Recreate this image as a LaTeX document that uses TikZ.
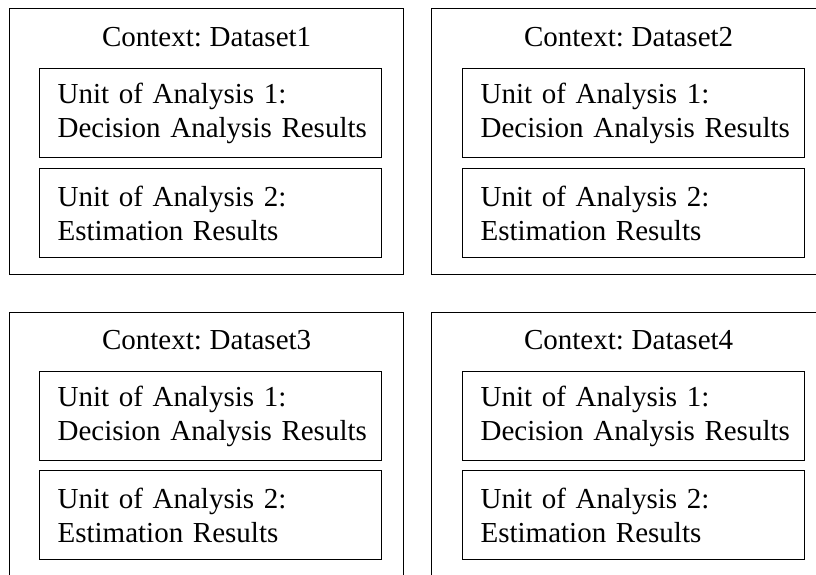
\documentclass[tikz,border=0pt]{standalone}
\usepackage{fontspec}
\setmainfont{Liberation Serif}[WordSpace=0.75]
\usetikzlibrary{positioning}
\newcommand{\unittext}[2]{\mbox{#1}\\\mbox{#2}}
\tikzset{
  ctxbox/.style={draw, line width=1.2pt, anchor=north west, inner sep=0pt, minimum width=394pt},
  ctxtitle/.style={anchor=base, inner sep=0pt, font=\fontsize{29pt}{34pt}\selectfont},
  unitbox/.style={draw, line width=1.2pt, anchor=north west, align=left, text width=306pt,
    inner xsep=18pt, inner ysep=0pt, minimum height=89pt, font=\fontsize{29pt}{34pt}\selectfont},
}
\begin{document}
\begin{tikzpicture}[x=1pt,y=-1pt]
\useasboundingbox (0,0) rectangle (816,574);
\clip (0,0) rectangle (816,574);
% top row
\node[ctxbox, minimum height=266pt] (ctx1) at (9,8) {};
\node[ctxtitle] (title1) at ([yshift=-38pt]ctx1.north) {Context: Dataset1};
\node[unitbox] (unitA1) at ([xshift=30pt,yshift=-60pt]ctx1.north west) {\unittext{Unit of Analysis 1:}{Decision Analysis Results}};
\node[unitbox, below=10pt of unitA1] (unitB1) {\unittext{Unit of Analysis 2:}{Estimation Results}};

\node[ctxbox, minimum height=266pt] (ctx2) at (431,8) {};
\node[ctxtitle] (title2) at ([yshift=-38pt]ctx2.north) {Context: Dataset2};
\node[unitbox] (unitA2) at ([xshift=31pt,yshift=-60pt]ctx2.north west) {\unittext{Unit of Analysis 1:}{Decision Analysis Results}};
\node[unitbox, below=10pt of unitA2] (unitB2) {\unittext{Unit of Analysis 2:}{Estimation Results}};

% bottom row (runs off the page)
\node[ctxbox, minimum height=280pt] (ctx3) at (9,312) {};
\node[ctxtitle] (title3) at ([yshift=-37pt]ctx3.north) {Context: Dataset3};
\node[unitbox] (unitA3) at ([xshift=30pt,yshift=-59pt]ctx3.north west) {\unittext{Unit of Analysis 1:}{Decision Analysis Results}};
\node[unitbox, below=9pt of unitA3] (unitB3) {\unittext{Unit of Analysis 2:}{Estimation Results}};

\node[ctxbox, minimum height=280pt] (ctx4) at (431,312) {};
\node[ctxtitle] (title4) at ([yshift=-37pt]ctx4.north) {Context: Dataset4};
\node[unitbox] (unitA4) at ([xshift=31pt,yshift=-59pt]ctx4.north west) {\unittext{Unit of Analysis 1:}{Decision Analysis Results}};
\node[unitbox, below=9pt of unitA4] (unitB4) {\unittext{Unit of Analysis 2:}{Estimation Results}};
\end{tikzpicture}
\end{document}
